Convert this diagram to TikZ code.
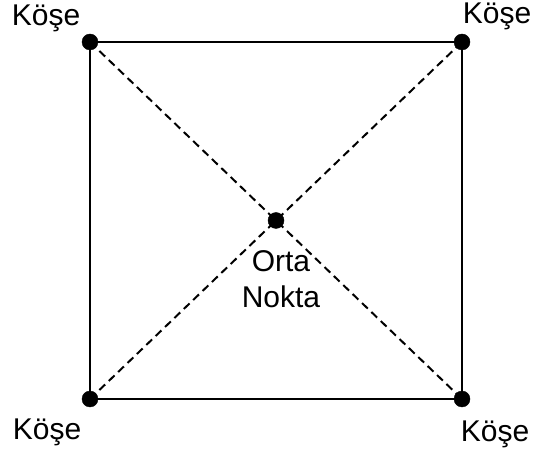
\documentclass[tikz,border=0pt]{standalone}
\usepackage{fontspec}
\setmainfont{Liberation Sans}
\usepackage{tikz}
\newcommand{\defaultdotsize}{16pt}
\newcommand{\dotsize}{\defaultdotsize}
\tikzstyle{corner}=[draw, fill, circle, inner sep=0, outer sep=0, minimum size=\dotsize]
\tikzstyle{edge}=[line width=2.6pt]
\tikzstyle{diag}=[line width=2pt, dash pattern=on 8pt off 5pt]
\tikzstyle{tag}=[inner sep=0, anchor=base, font=\fontsize{30}{36}\selectfont]
\tikzstyle{square}=[x=1pt, y=1pt,
                    % Fix the page to the reference size.
                    execute at begin picture={\useasboundingbox (0,0) rectangle (544,450);}]

\begin{document}
\begin{tikzpicture}[square]
        \node[corner] (tl) at (90, 408) {};
        \node[corner] (tr) at (462, 408) {};
        \node[corner] (bl) at (90, 51) {};
        \node[corner] (br) at (462, 51) {};
        \node[corner] (mid) at (276, 229.5) {};
        \draw[edge] (tl.center) -- (tr.center) -- (br.center) -- (bl.center) -- cycle;
        \draw[diag] (tl.center) -- (br.center);
        \draw[diag] (bl.center) -- (tr.center);
        \node[tag] (tltag) at (46, 424) {Köşe};
        \node[tag] (trtag) at (497, 426) {Köşe};
        \node[tag] (bltag) at (47, 10) {Köşe};
        \node[tag] (brtag) at (495, 8) {Köşe};
        \node[tag, align=center] (midtag) at (281, 142) {Orta\\Nokta};
    \end{tikzpicture}
\end{document}
